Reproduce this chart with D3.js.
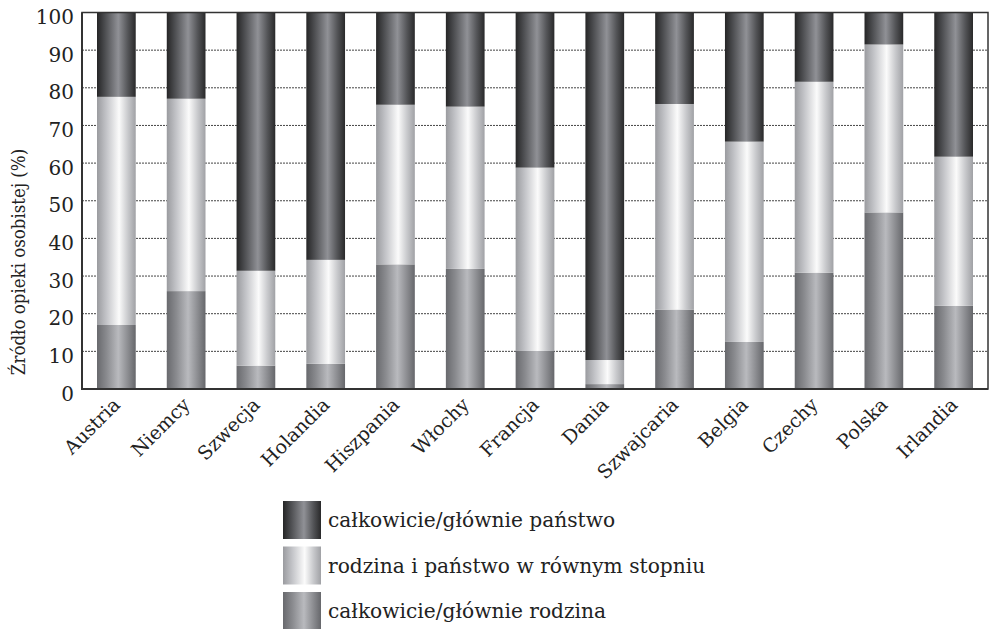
<!DOCTYPE html>
<html><head><meta charset="utf-8">
<script src="https://cdn.jsdelivr.net/npm/d3@7"></script>
<style>body{margin:0;background:#fff}svg{display:block}text{font-family:"DejaVu Serif",serif;fill:#222}
.ttl{font-family:"DejaVu Serif Condensed","DejaVu Serif",serif;font-stretch:condensed}</style>
</head><body><svg id="c" width="989" height="629"></svg>
<script>
const categories = ["Austria","Niemcy","Szwecja","Holandia","Hiszpania","Włochy","Francja","Dania","Szwajcaria","Belgia","Czechy","Polska","Irlandia"];
const rodzina = [17.0, 26.0, 6.2, 6.7, 33.1, 31.9, 10.1, 1.3, 21.1, 12.5, 30.9, 46.9, 22.1];
const rowno   = [60.6, 51.1, 25.2, 27.6, 42.4, 43.1, 48.7, 6.4, 54.6, 53.2, 50.7, 44.6, 39.6];
const panstwo = [22.4, 22.9, 68.6, 65.7, 24.5, 25.0, 41.2, 92.3, 24.3, 34.3, 18.4, 8.5, 38.3];
const seriesNames = ["całkowicie/głównie rodzina","rodzina i państwo w równym stopniu","całkowicie/głównie państwo"];
const yTicks = [0,10,20,30,40,50,60,70,80,90,100];
const yTitle = "Źródło opieki osobistej (%)";

const svg = d3.select("#c");
const L=82, R=988, T=12.5, B=389;
const defs = svg.append("defs");
const grads = [
  {id:"gRod", stops:[[0,"#68696d"],[0.25,"#8a8b8f"],[0.55,"#b9babe"],[0.8,"#8b8c90"],[1,"#66676b"]]},
  {id:"gRow", stops:[[0,"#9a9b9f"],[0.25,"#c4c5c9"],[0.57,"#fbfbfb"],[0.8,"#c8c9cc"],[1,"#a0a1a5"]]},
  {id:"gPan", stops:[[0,"#252526"],[0.2,"#4b4c4f"],[0.55,"#909196"],[0.8,"#535457"],[1,"#29292a"]]}
];
grads.forEach(g=>{
  const lg = defs.append("linearGradient").attr("id",g.id).attr("x1",0).attr("x2",1).attr("y1",0).attr("y2",0);
  g.stops.forEach(s=>lg.append("stop").attr("offset",s[0]).attr("stop-color",s[1]));
});
const fills = ["url(#gRod)","url(#gRow)","url(#gPan)"];

const x = d3.scaleBand().domain(categories).range([L,R]).paddingInner(0.445).paddingOuter(0.215);
const y = d3.scaleLinear().domain([0,100]).range([B,T]);

// gridlines
svg.append("g").selectAll("line").data(yTicks.filter(t=>t>0&&t<100)).join("line")
  .attr("x1",L).attr("x2",R).attr("y1",d=>y(d)).attr("y2",d=>y(d))
  .attr("stroke","#444").attr("stroke-width",1).attr("stroke-dasharray","2,1");

const table = categories.map((c,i)=>({cat:c, r:rodzina[i], w:rowno[i], p:panstwo[i]}));
const stack = d3.stack().keys(["r","w","p"])(table);
svg.append("g").selectAll("g").data(stack).join("g")
  .attr("fill",(d,i)=>fills[i])
  .selectAll("rect").data(d=>d).join("rect")
  .attr("x",d=>x(d.data.cat)).attr("width",x.bandwidth())
  .attr("y",d=>y(d[1])).attr("height",d=>y(d[0])-y(d[1]));

// frame
svg.append("rect").attr("x",L).attr("y",T).attr("width",R-L).attr("height",B-T)
  .attr("fill","none").attr("stroke","#333").attr("stroke-width",1.5);
svg.append("line").attr("x1",L).attr("x2",L).attr("y1",T).attr("y2",B+1).attr("stroke","#333").attr("stroke-width",2);
svg.append("line").attr("x1",L).attr("x2",R).attr("y1",B).attr("y2",B).attr("stroke","#333").attr("stroke-width",2);

// y axis
const ya = svg.append("g").attr("transform",`translate(${L},0)`)
  .call(d3.axisLeft(y).tickValues(yTicks).tickSize(0).tickPadding(8).tickFormat(d3.format("d")));
ya.select(".domain").remove();
ya.selectAll("text").attr("font-size",20).attr("dy","0.55em").style("font-family","'DejaVu Serif',serif").attr("fill","#222");

// x axis
const xa = svg.append("g").attr("transform",`translate(0,${B})`)
  .call(d3.axisBottom(x).tickSize(0).tickPadding(0));
xa.select(".domain").remove();
xa.selectAll("text").attr("font-size",19).style("font-family","'DejaVu Serif',serif").attr("fill","#222")
  .attr("text-anchor","end").attr("dy",0).attr("y",0)
  .attr("transform","translate(5,17) rotate(-45)");

// y title
svg.append("text").attr("class","ttl").attr("transform",`translate(25,262) rotate(-90)`)
  .attr("text-anchor","middle").attr("font-size",18.5).text(yTitle);

// legend
const legOrder = [2,1,0];
const lg = svg.append("g");
legOrder.forEach((si,k)=>{
  const yy = 501 + k*45.5;
  lg.append("rect").attr("x",283).attr("y",yy).attr("width",38).attr("height",38).attr("fill",fills[si]);
  lg.append("text").attr("x",328).attr("y",yy+19).attr("dy","0.35em").attr("font-size",20.2).text(seriesNames[si]);
});
</script></body></html>
